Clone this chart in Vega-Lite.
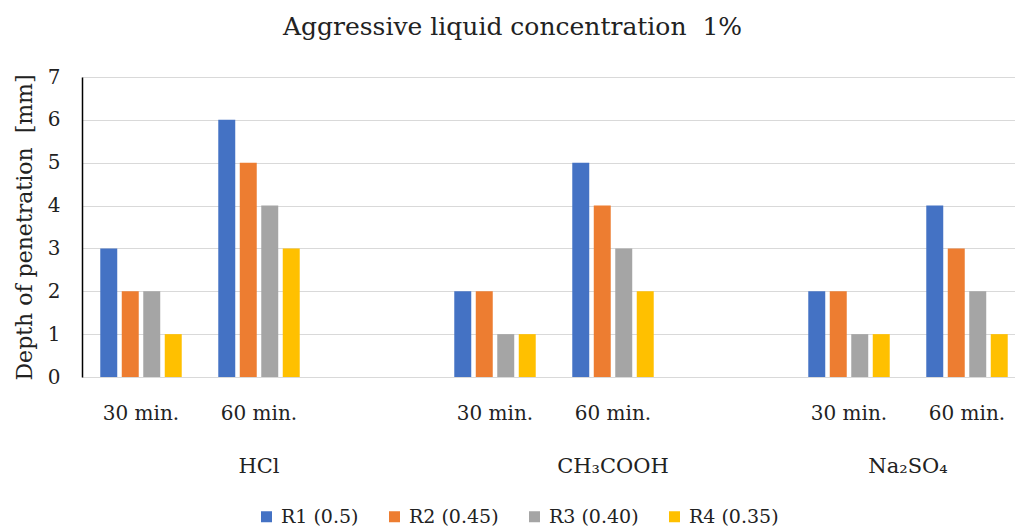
{
  "$schema": "https://vega.github.io/schema/vega-lite/v6.json",
  "width": 933,
  "height": 300,
  "autosize": {"type": "none"},
  "padding": {"left": 82, "top": 77, "right": 0, "bottom": 153},
  "background": "white",
  "title": {
    "text": "Aggressive liquid concentration\u00a0 1%",
    "font": "DejaVu Serif",
    "fontSize": 25,
    "fontWeight": "normal",
    "color": "#222222",
    "anchor": "middle",
    "frame": "group",
    "dx": -36,
    "offset": 27
  },
  "config": {
    "view": {"stroke": null},
    "axis": {"labelFont": "DejaVu Serif", "titleFont": "DejaVu Serif", "labelColor": "#222222", "titleColor": "#222222"},
    "legend": {"labelFont": "DejaVu Serif"}
  },
  "data": {
    "values": [
      {"slot": "HCl|30", "series": "R1 (0.5)", "value": 3},
      {"slot": "HCl|30", "series": "R2 (0.45)", "value": 2},
      {"slot": "HCl|30", "series": "R3 (0.40)", "value": 2},
      {"slot": "HCl|30", "series": "R4 (0.35)", "value": 1},
      {"slot": "HCl|60", "series": "R1 (0.5)", "value": 6},
      {"slot": "HCl|60", "series": "R2 (0.45)", "value": 5},
      {"slot": "HCl|60", "series": "R3 (0.40)", "value": 4},
      {"slot": "HCl|60", "series": "R4 (0.35)", "value": 3},
      {"slot": "CH|30", "series": "R1 (0.5)", "value": 2},
      {"slot": "CH|30", "series": "R2 (0.45)", "value": 2},
      {"slot": "CH|30", "series": "R3 (0.40)", "value": 1},
      {"slot": "CH|30", "series": "R4 (0.35)", "value": 1},
      {"slot": "CH|60", "series": "R1 (0.5)", "value": 5},
      {"slot": "CH|60", "series": "R2 (0.45)", "value": 4},
      {"slot": "CH|60", "series": "R3 (0.40)", "value": 3},
      {"slot": "CH|60", "series": "R4 (0.35)", "value": 2},
      {"slot": "Na|30", "series": "R1 (0.5)", "value": 2},
      {"slot": "Na|30", "series": "R2 (0.45)", "value": 2},
      {"slot": "Na|30", "series": "R3 (0.40)", "value": 1},
      {"slot": "Na|30", "series": "R4 (0.35)", "value": 1},
      {"slot": "Na|60", "series": "R1 (0.5)", "value": 4},
      {"slot": "Na|60", "series": "R2 (0.45)", "value": 3},
      {"slot": "Na|60", "series": "R3 (0.40)", "value": 2},
      {"slot": "Na|60", "series": "R4 (0.35)", "value": 1}
    ]
  },
  "resolve": {"axis": {"x": "independent"}},
  "layer": [
    {
      "mark": {"type": "bar"},
      "encoding": {
        "x": {
          "field": "slot",
          "type": "nominal",
          "sort": null,
          "scale": {
            "domain": ["HCl|30", "HCl|60", "g1", "CH|30", "CH|60", "g2", "Na|30", "Na|60"],
            "paddingInner": 0,
            "paddingOuter": 0,
            "range": [0, 944]
          },
          "axis": {
            "orient": "bottom",
            "title": null,
            "domain": false,
            "ticks": false,
            "tickSize": 0,
            "labelAngle": 0,
            "labelFontSize": 20,
            "labelBaseline": "top",
            "labelPadding": 26,
            "labelExpr": "indexof(datum.value, '|30') >= 0 ? '30 min.' : (indexof(datum.value, '|60') >= 0 ? '60 min.' : '')"
          }
        },
        "xOffset": {
          "field": "series",
          "type": "nominal",
          "sort": ["R1 (0.5)", "R2 (0.45)", "R3 (0.40)", "R4 (0.35)"],
          "scale": {"paddingInner": 0.21, "paddingOuter": 0.85}
        },
        "y": {
          "field": "value",
          "type": "quantitative",
          "scale": {"domain": [0, 7], "nice": false},
          "axis": {
            "title": "Depth of penetration\u00a0 [mm]",
            "titleFontSize": 22,
            "titleFontWeight": "normal",
            "titlePadding": 11,
            "values": [0, 1, 2, 3, 4, 5, 6, 7],
            "labelFontSize": 20,
            "labelPadding": 22,
            "ticks": false,
            "tickSize": 0,
            "domainColor": "#000000",
            "domainWidth": 1.5,
            "grid": true,
            "gridColor": "#d9d9d9",
            "gridWidth": 1.2
          }
        },
        "color": {
          "field": "series",
          "type": "nominal",
          "sort": ["R1 (0.5)", "R2 (0.45)", "R3 (0.40)", "R4 (0.35)"],
          "scale": {
            "domain": ["R1 (0.5)", "R2 (0.45)", "R3 (0.40)", "R4 (0.35)"],
            "range": ["#4472C4", "#ED7D31", "#A5A5A5", "#FFC000"]
          },
          "legend": {
            "title": null,
            "orient": "none",
            "direction": "horizontal",
            "legendX": 175,
            "legendY": 430,
            "symbolType": "square",
            "symbolSize": 121,
            "symbolStrokeWidth": 0,
            "labelFontSize": 19,
            "labelColor": "#222222",
            "labelOffset": 5,
            "columnPadding": 26
          }
        }
      }
    },
    {
      "mark": {"type": "rule", "opacity": 0},
      "encoding": {
        "x": {
          "field": "slot",
          "type": "nominal",
          "sort": null,
          "axis": {
            "orient": "bottom",
            "title": null,
            "domain": false,
            "ticks": false,
            "tickSize": 0,
            "grid": false,
            "labelAngle": 0,
            "labelFontSize": 21,
            "labelBaseline": "top",
            "labelPadding": 78,
            "labelOffset": {"condition": {"test": "datum.value == 'Na|30'", "value": 59}, "value": 0},
            "labelExpr": "datum.value == 'HCl|60' ? 'HCl' : (datum.value == 'CH|60' ? 'CH₃COOH' : (datum.value == 'Na|30' ? 'Na₂SO₄' : ''))"
          }
        }
      }
    }
  ]
}
